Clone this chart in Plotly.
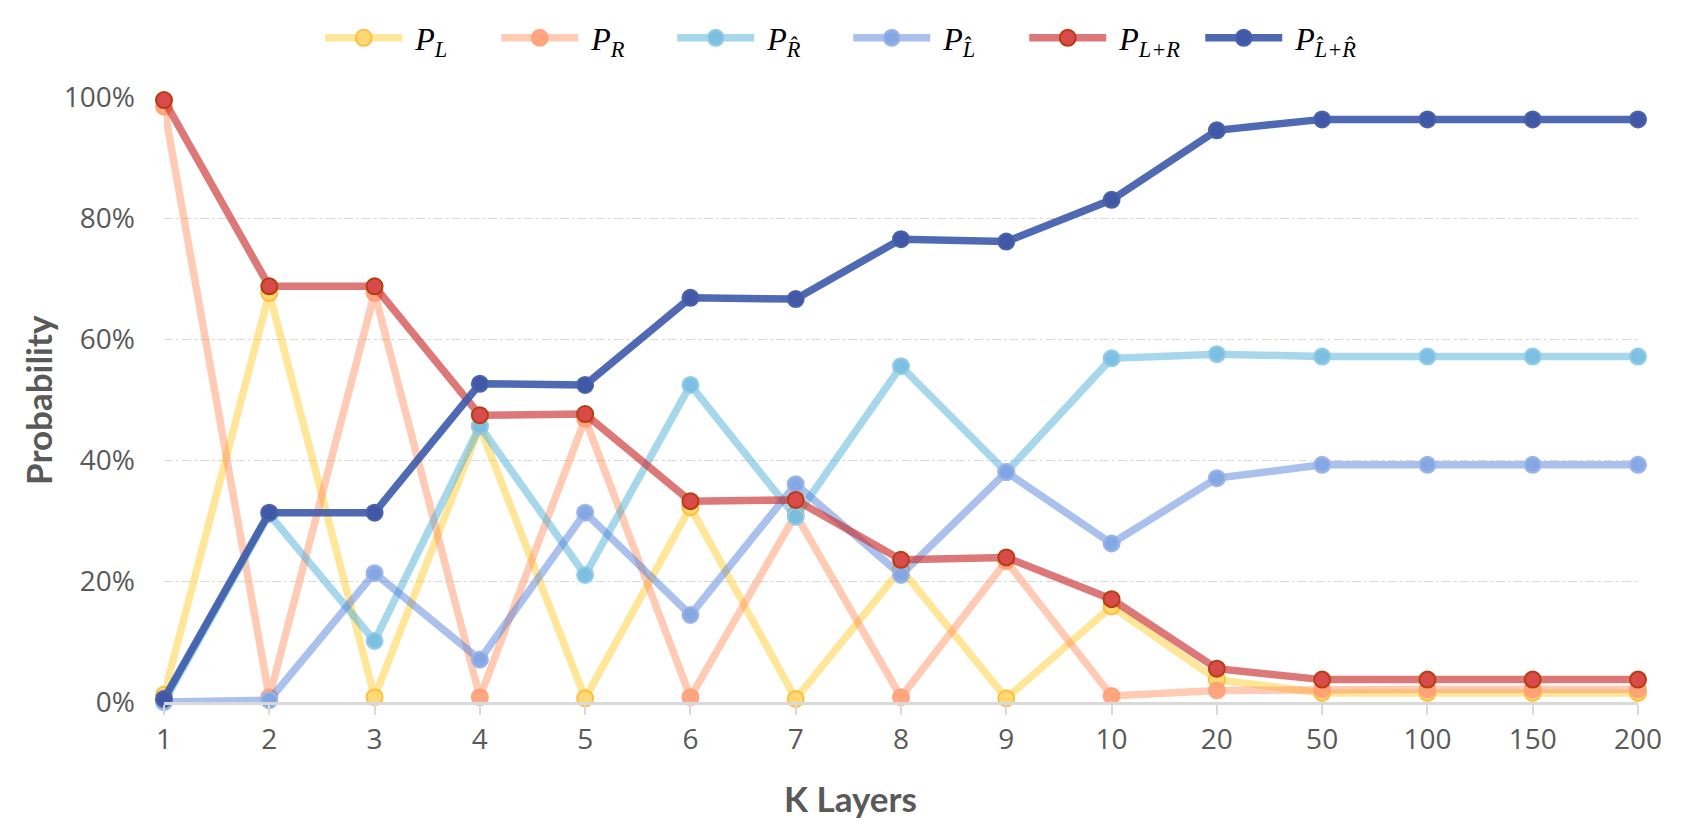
import plotly.graph_objects as go

# K layers on the x axis (categorical)
k_layers = ["1", "2", "3", "4", "5", "6", "7", "8", "9", "10", "20", "50", "100", "150", "200"]

# probabilities in percent
p_l = [1.2, 67.6, 0.8, 45.5, 0.6, 32.2, 0.5, 22.0, 0.6, 15.8, 3.7, 1.5, 1.5, 1.5, 1.5]
p_r = [98.4, 0.8, 67.6, 0.8, 46.8, 0.8, 31.0, 0.8, 23.3, 1.0, 1.9, 2.1, 2.1, 2.1, 2.1]
p_r_hat = [0.0, 31.0, 10.1, 45.6, 21.0, 52.4, 30.6, 55.5, 38.0, 56.8, 57.5, 57.1, 57.1, 57.1, 57.1]
p_l_hat = [0.0, 0.3, 21.3, 7.0, 31.3, 14.4, 36.0, 21.0, 38.0, 26.2, 37.0, 39.2, 39.2, 39.2, 39.2]
p_lr = [99.5, 68.7, 68.7, 47.4, 47.6, 33.2, 33.4, 23.5, 23.9, 17.0, 5.5, 3.7, 3.7, 3.7, 3.7]
p_lr_hat = [0.5, 31.3, 31.3, 52.6, 52.4, 66.8, 66.6, 76.5, 76.1, 83.0, 94.5, 96.3, 96.3, 96.3, 96.3]

y_ticks = [0, 20, 40, 60, 80, 100]
y_labels = ["0%", "20%", "40%", "60%", "80%", "100%"]

# name, values, line colour, marker fill, marker outline
series = [
    ("<i>P</i><sub><i>L</i></sub>", p_l, "rgba(255,205,51,0.5)", "rgba(255,214,110,0.9)", "#FFBE3C"),
    ("<i>P</i><sub><i>R</i></sub>", p_r, "rgba(255,140,90,0.45)", "rgba(255,160,120,0.9)", "rgba(255,160,120,0.9)"),
    ("<i>P</i><sub><i>R\u0302</i></sub>", p_r_hat, "rgba(80,175,215,0.5)", "rgba(120,190,225,0.95)", "#92CCE6"),
    ("<i>P</i><sub><i>L\u0302</i></sub>", p_l_hat, "rgba(85,130,220,0.5)", "rgba(130,165,228,0.95)", "#9CB5EA"),
    ("<i>P</i><sub><i>L+R</i></sub>", p_lr, "rgba(204,50,50,0.66)", "#D84B4B", "#B83C10"),
    ("<i>P</i><sub><i>L\u0302+R\u0302</i></sub>", p_lr_hat, "rgba(60,90,170,0.9)", "#4158A6", "#4A62AE"),
]

fig = go.Figure()
for name, vals, lc, mc, oc in series:
    fig.add_trace(go.Scatter(
        x=k_layers, y=vals, name="\u00a0" + name, mode="lines+markers",
        line=dict(color=lc, width=7.5),
        marker=dict(size=16, color=mc, line=dict(color=oc, width=2)),
        cliponaxis=False,
    ))

tick_font = dict(family="Open Sans", size=28, color="#595959")
title_font = dict(family="Lato", size=35, color="#595959")

# page body has an 8px margin, so the figure is a bit smaller than the window
fig.update_layout(
    width=1676, height=813,
    plot_bgcolor="white", paper_bgcolor="white",
    margin=dict(l=156, r=46, t=89, b=119, autoexpand=False),
    xaxis=dict(
        type="category", range=[0, 14], showgrid=False, zeroline=False,
        showline=True, linecolor="#D9D9D9", linewidth=3,
        ticks="outside", ticklen=10, tickwidth=2, tickcolor="#D9D9D9",
        ticklabelstandoff=0, tickfont=tick_font, automargin=False,
    ),
    yaxis=dict(
        range=[0, 100], tickvals=y_ticks, ticktext=y_labels,
        showgrid=True, gridcolor="#D9D9D9", gridwidth=1, griddash="dashdot",
        zeroline=False, showline=False, ticks="", ticklabelstandoff=28,
        tickfont=tick_font, automargin=False,
    ),
    legend=dict(
        orientation="h", x=0.106, xanchor="left", y=1.0975, yanchor="middle",
        font=dict(family="Liberation Serif", size=32, color="black"),
        itemwidth=77, entrywidth=84, entrywidthmode="pixels",
        bgcolor="rgba(0,0,0,0)",
    ),
    annotations=[
        dict(text="<b>K Layers</b>", xref="paper", yref="paper",
             x=(850 - 164) / 1474, y=-(798 - 702) / 605, xanchor="center", yanchor="middle",
             showarrow=False, font=title_font),
        dict(text="<b>Probability</b>", xref="paper", yref="paper",
             x=-(164 - 38) / 1474, y=(702 - 400) / 605, xanchor="center", yanchor="middle",
             textangle=-90, showarrow=False, font=title_font),
    ],
)

fig.write_html("out.html")
